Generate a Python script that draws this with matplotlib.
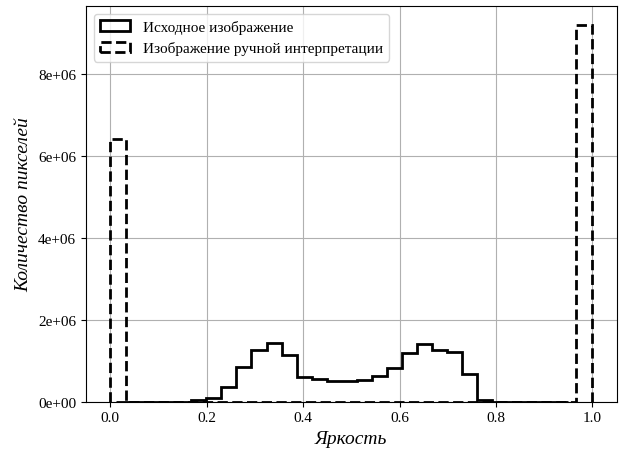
import matplotlib
matplotlib.use("Agg")
import matplotlib.pyplot as plt
import numpy as np
from matplotlib.ticker import FormatStrFormatter

plt.rcParams['font.family'] = ['Liberation Serif', 'DejaVu Serif']

# Source image histogram: 30 bins over its own value range
source_low = 0.0118
source_high = 0.949
source_counts = [0, 0, 0, 0, 0,
                 0.04e6, 0.09e6, 0.35e6, 0.84e6, 1.25e6,
                 1.43e6, 1.13e6, 0.59e6, 0.55e6, 0.49e6,
                 0.49e6, 0.52e6, 0.63e6, 0.81e6, 1.18e6,
                 1.41e6, 1.26e6, 1.20e6, 0.67e6, 0.04e6,
                 0, 0, 0, 0, 0]

# Manual interpretation histogram: 30 bins over [0, 1]
manual_low = 0.0
manual_high = 1.0
manual_counts = [6.42e6] + [0] * 28 + [9.2e6]

source_edges = np.linspace(source_low, source_high, len(source_counts) + 1)
manual_edges = np.linspace(manual_low, manual_high, len(manual_counts) + 1)

fig = plt.figure(figsize=(6.19, 4.52), dpi=100)
ax = fig.add_axes([0.139, 0.1095, 0.857, 0.875])

ax.hist(source_edges[:-1], bins=source_edges, weights=source_counts,
        histtype='step', color='black', linewidth=2,
        label='Исходное изображение')
ax.hist(manual_edges[:-1], bins=manual_edges, weights=manual_counts,
        histtype='step', color='black', linewidth=2, linestyle='--',
        label='Изображение ручной интерпретации')

ax.yaxis.set_major_formatter(FormatStrFormatter('%.0e'))
ax.set_xticks([0.0, 0.2, 0.4, 0.6, 0.8, 1.0])
ax.set_xticklabels(['0.0', '0.2', '0.4', '0.6', '0.8', '1.0'])
ax.tick_params(labelsize=11)
ax.grid(True)
ax.set_axisbelow(True)

ax.set_xlabel('Яркость', fontsize=14, style='italic')
ax.set_ylabel('Количество пикселей', fontsize=14, style='italic')
ax.legend(loc='upper left', fontsize=11)

fig.savefig('out.png', dpi=100)
